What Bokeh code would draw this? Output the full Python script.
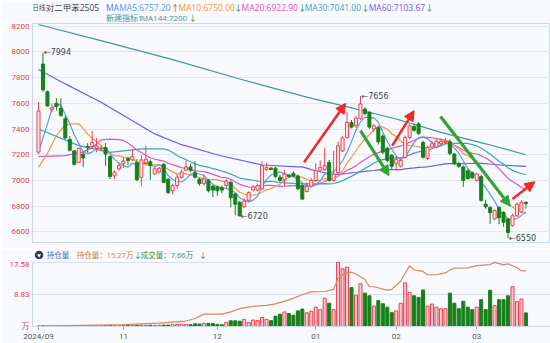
from bokeh.plotting import figure
from bokeh.models import ColumnDataSource, FixedTicker, Range1d, Arrow, NormalHead
from bokeh.layouts import column
from bokeh.embed import file_html
from bokeh.resources import INLINE
from bokeh.core.properties import value

# ---------------- data ----------------
opens = [7220, 7905, 7690, 7550, 7600, 7560, 7480, 7320, 7230, 7140,
         7205, 7265, 7265, 7250, 7245, 7255, 7185, 7035, 7090, 7130,
         7170, 7160, 7140, 7025, 7135, 7145, 7050, 7065, 7125, 7010,
         6920, 6960, 7025, 7080, 7105, 7060, 7010, 6975, 7000, 6955,
         6950, 6945, 6960, 6985, 6895, 6830, 6795, 6845, 6925, 6925,
         6935, 7085, 7095, 7095, 7025, 7005, 7040, 7055, 7035, 6960,
         6915, 6955, 7000, 7080, 7085, 7140, 7000, 7060, 7230, 7335,
         7450, 7425, 7480, 7555, 7530, 7400, 7410, 7345, 7250, 7195,
         7130, 7110, 7180, 7335, 7420, 7440, 7295, 7170, 7260, 7260,
         7285, 7295, 7300, 7205, 7130, 7105, 7075, 7060, 7000, 7030,
         6815, 6790, 6700, 6790, 6750, 6700, 6650, 6725, 6755, 6830]
highs = [7610, 7994, 7700, 7600, 7640, 7640, 7505, 7345, 7235, 7255,
         7220, 7290, 7385, 7330, 7275, 7290, 7195, 7080, 7140, 7180,
         7180, 7245, 7165, 7195, 7270, 7160, 7105, 7105, 7135, 7020,
         6975, 7050, 7085, 7155, 7130, 7150, 7020, 7040, 7010, 6965,
         6960, 6960, 7010, 7000, 6900, 6840, 6860, 6915, 6965, 6975,
         7150, 7135, 7105, 7105, 7045, 7080, 7050, 7070, 7045, 6975,
         6985, 7020, 7135, 7155, 7255, 7160, 7230, 7300, 7345, 7530,
         7470, 7500, 7656, 7570, 7540, 7440, 7420, 7360, 7265, 7205,
         7190, 7175, 7350, 7440, 7445, 7455, 7310, 7270, 7305, 7320,
         7325, 7330, 7320, 7215, 7145, 7115, 7085, 7070, 7060, 7045,
         6850, 6800, 6775, 6800, 6760, 6710, 6740, 6830, 6845, 6835]
lows = [7205, 7690, 7575, 7530, 7545, 7495, 7320, 7225, 7115, 7135,
        7105, 7215, 7255, 7220, 7225, 7115, 7010, 7010, 7075, 7095,
        7120, 7150, 6995, 6955, 7125, 7005, 7045, 7055, 6980, 6895,
        6890, 6935, 7015, 7075, 7065, 7015, 6960, 6960, 6905, 6870,
        6880, 6900, 6935, 6790, 6730, 6720, 6785, 6835, 6915, 6915,
        6925, 7075, 7080, 7020, 6990, 6960, 7020, 7025, 6925, 6850,
        6905, 6945, 6990, 7070, 7075, 6990, 6990, 7050, 7220, 7325,
        7405, 7410, 7470, 7505, 7400, 7375, 7280, 7205, 7140, 7085,
        7075, 7100, 7170, 7320, 7380, 7355, 7170, 7160, 7250, 7250,
        7275, 7285, 7195, 7120, 7095, 6950, 7005, 7010, 6990, 6835,
        6780, 6660, 6695, 6660, 6640, 6550, 6640, 6715, 6745, 6780]
closes = [7540, 7705, 7580, 7565, 7575, 7505, 7330, 7235, 7125, 7250,
          7175, 7255, 7295, 7270, 7250, 7205, 7030, 7065, 7115, 7150,
          7155, 7185, 7005, 7160, 7165, 7115, 7090, 7095, 6985, 6905,
          6960, 7025, 7065, 7105, 7080, 7025, 6975, 7010, 6920, 6925,
          6920, 6925, 6995, 6865, 6815, 6725, 6840, 6905, 6950, 6960,
          7115, 7100, 7085, 7030, 7000, 7050, 7030, 7035, 6935, 6855,
          6955, 7000, 7075, 7100, 7115, 7000, 7050, 7270, 7330, 7450,
          7415, 7485, 7595, 7520, 7415, 7425, 7300, 7220, 7155, 7110,
          7165, 7155, 7335, 7425, 7390, 7365, 7180, 7255, 7285, 7305,
          7305, 7305, 7210, 7130, 7110, 7000, 7015, 7020, 7050, 6845,
          6795, 6750, 6765, 6710, 6675, 6595, 6725, 6815, 6830, 6820]
# traded volume, 万 lots
volumes = [0.3, 0.4, 0.3, 0.3, 0.3, 0.3, 0.4, 0.3, 0.4, 0.3,
           0.3, 0.3, 0.4, 0.3, 0.3, 0.4, 0.5, 0.4, 0.4, 0.5,
           0.5, 0.5, 0.7, 0.7, 0.6, 0.7, 0.6, 0.7, 0.8, 0.8,
           1.0, 1.1, 1.2, 1.1, 1.0, 1.5, 1.4, 1.8, 1.7, 1.6,
           1.2, 1.0, 2.2, 3.2, 3.2, 3.0, 4.0, 2.2, 3.6, 3.3,
           5.1, 4.0, 3.3, 5.8, 6.9, 8.2, 7.3, 6.4, 8.8, 9.8,
           7.7, 8.6, 10.9, 9.5, 15.9, 13.1, 9.5, 36.1, 32.5, 33.4,
           21.9, 17.7, 24.1, 18.8, 17.3, 11.5, 14.6, 12.8, 10.9, 7.8,
           8.8, 13.1, 24.6, 19.2, 17.3, 16.4, 20.6, 11.5, 12.6, 10.9,
           10.0, 10.0, 18.8, 13.1, 10.0, 14.2, 10.9, 9.5, 10.9, 15.1,
           9.5, 20.4, 11.8, 15.1, 15.1, 17.3, 22.4, 14.0, 15.5, 7.66]
# open interest (万 lots) read at points along the line
oi_idx = [0, 19, 27, 33, 35, 37, 41, 43, 45, 48, 51, 53, 56, 59, 61, 64, 66, 67, 68, 69,
          70, 71, 73, 74, 75, 78, 79, 81, 83, 84, 86, 87, 89, 91, 92, 93, 96, 98, 101,
          102, 104, 105, 107, 108, 109]
oi_val = [0.1, 0.5, 0.9, 1.5, 2.2, 3.4, 3.4, 4.0, 4.9, 5.5, 5.8, 6.2, 7.3, 8.7, 9.5, 9.6,
          10.2, 13.3, 14.2, 14.7, 14.9, 14.4, 12.9, 10.9, 10.9, 10.0, 10.2, 12.4, 16.7, 15.5,
          15.1, 14.2, 14.2, 14.7, 15.5, 16.0, 16.1, 16.7, 17.0, 17.58, 16.9, 17.2, 16.1,
          15.3, 15.27]
ma5_lead_idx = [0, 1, 2, 3]
ma5_lead_val = [7218, 7330, 7440, 7556]
ma10_lead_idx = [0, 2, 4, 6, 8]
ma10_lead_val = [7102, 7210, 7350, 7432, 7440]
ma20_lead_idx = [0, 6, 10, 12, 14, 16, 18]
ma20_lead_val = [7185, 7193, 7222, 7255, 7315, 7322, 7318]
ma30_lead_idx = [0, 9, 16, 23, 28]
ma30_lead_val = [7400, 7271, 7218, 7245, 7245]
ma60_lead_idx = [0, 6, 14, 21, 26, 32, 41, 50, 58]
ma60_lead_val = [7863, 7751, 7608, 7465, 7362, 7278, 7190, 7120, 7105]
ma144_idx = [0, 15, 30, 45, 60, 70, 80, 90, 100, 109]
ma144_val = [8213, 8078, 7940, 7789, 7648, 7565, 7478, 7374, 7285, 7200]

price_ticks = [6600, 6800, 7000, 7200, 7400, 7600, 7800, 8000, 8200]
date_tick_idx = [0, 19, 40, 62, 80, 98]
date_tick_labels = ["2024/09", "11", "12", "01", "02", "03"]
oi_ticks = [0, 8.83, 17.58]
oi_tick_labels = ["万", "8.83", "17.58"]
VOL_TOP = 36.1   # volume shown at the top edge of the lower panel

# extreme-price notes
note_idx = [1, 72, 45, 105]
note_price = [7994, 7656, 6720, 6550]
note_text = ["←7994", "←7656", "←6720", "←6550"]

# hand-drawn trend arrows (index, price)
arrow_x0 = [59.4, 72.0, 79.1, 89.9, 106.0]
arrow_y0 = [7141, 7387, 7271, 7497, 6856]
arrow_x1 = [68.7, 78.4, 84.0, 105.5, 111.0]
arrow_y1 = [7600, 7037, 7543, 6800, 6990]
arrow_up = [True, False, True, False, True]

# header legend texts
legend1_text = ["对二甲苯2505", "MA", "MA5:6757.20", "↑", "MA10:6750.00", "↓",
                "MA20:6922.90", "↓", "MA30:7041.00", "↓", "MA60:7103.67", "↓"]
legend2_text = ["新建指标1", "MA144:7200", "↓"]
legend3_text = ["持仓量", "持仓量：15.27万", "↓", "成交量：7.66万", "↓"]

# ---------------- styling ----------------
BG = "#f7f9fd"
RED = "#e8424e"
GREEN = "#17801b"
UPA = "#e02020"
DNA = "#1d8a1d"
RED_FILL = "#fdeaec"
VOL_RED_FILL = "#f8c8ce"
GRID = "#e1e8f3"
AXIS = "#cbd8ea"
C_MA5 = "#5b9be6"
C_MA10 = "#f09a37"
C_MA20 = "#e052c8"
C_MA30 = "#3aa3bf"
C_MA60 = "#6a5ef0"
C_MA144 = "#3f96a0"
C_OI = "#d4895a"
FONT = "Open Sans, Noto Sans CJK SC"

legend1_x = [14, 78, 92, 147, 155, 214, 222, 282, 289, 349, 357, 417]
legend1_col = ["#444444", "#4a7fd6", C_MA5, UPA, C_MA10, DNA,
               C_MA20, DNA, C_MA30, DNA, C_MA60, DNA]
legend2_x = [78, 115, 166]
legend2_col = [C_MA144, C_MA144, DNA]
legend3_x = [15, 47, 108, 115, 177]
legend3_col = ["#3a6fc8", "#c8803f", DNA, "#3e8e3e", DNA]

N = len(closes)
idx = list(range(N))


def ma_line(n, lead_idx, lead_val):
    xs = list(lead_idx)
    ys = list(lead_val)
    for i in range(n - 1, N):
        xs.append(i)
        ys.append(sum(closes[i - n + 1:i + 1]) / n)
    return xs, ys


def strip_fig(height):
    f = figure(width=550, height=height, x_range=Range1d(0, 550), y_range=Range1d(height, 0),
               output_backend="svg", toolbar_location=None, x_axis_location=None,
               y_axis_location=None, min_border=0, outline_line_color=None,
               background_fill_color=BG, border_fill_color=BG)
    f.grid.visible = False
    return f


def put_texts(f, xs, y, texts, cols, size):
    f.text(x=xs, y=[y] * len(xs), text=texts, text_color=cols,
           text_font=value(FONT), text_font_size=size, text_align="left",
           text_baseline="middle")


up = [c >= o for o, c in zip(opens, closes)]
src = ColumnDataSource(dict(
    x=idx, high=highs, low=lows,
    top=[max(o, c) for o, c in zip(opens, closes)],
    bottom=[min(o, c) for o, c in zip(opens, closes)],
    color=[RED if u else GREEN for u in up],
    fill=[RED_FILL if u else GREEN for u in up],
    vfill=[VOL_RED_FILL if u else GREEN for u in up],
    vol=volumes,
))

xr = Range1d(-1.34, 114.5)

# ---------------- header strip 1 (canvas rows 0..23) ----------------
h1 = strip_fig(23)
put_texts(h1, [0], 6.7, ["日线"], ["#444444"], "6.5px")
put_texts(h1, legend1_x, 6.7, legend1_text, legend1_col, "8.5px")
put_texts(h1, legend2_x, 17.0, legend2_text, legend2_col, "8px")

# ---------------- main price panel (frame rows 23..242) ----------------
p = figure(width=550, height=225, x_range=xr, y_range=Range1d(6517, 8221),
           output_backend="svg", toolbar_location=None, x_axis_location=None,
           min_border_left=32, min_border_right=0, min_border_top=0, min_border_bottom=6,
           background_fill_color=BG, border_fill_color=BG, outline_line_color=AXIS)
yax = p.yaxis[0]
yax.ticker = FixedTicker(ticks=price_ticks)
yax.major_label_text_color = RED
yax.major_label_text_font_size = "8px"
yax.major_label_text_font = "Roboto"
yax.major_tick_out = 0
yax.major_tick_in = 0
yax.minor_tick_out = 0
yax.minor_tick_in = 0
yax.axis_line_color = AXIS
yax.major_label_standoff = 3
p.ygrid.ticker = FixedTicker(ticks=price_ticks)
p.ygrid.grid_line_color = GRID
p.xgrid.visible = False

for (xs, ys), col in [
    ((ma144_idx, ma144_val), C_MA144),
    (ma_line(60, ma60_lead_idx, ma60_lead_val), C_MA60),
    (ma_line(30, ma30_lead_idx, ma30_lead_val), C_MA30),
    (ma_line(20, ma20_lead_idx, ma20_lead_val), C_MA20),
    (ma_line(10, ma10_lead_idx, ma10_lead_val), C_MA10),
    (ma_line(5, ma5_lead_idx, ma5_lead_val), C_MA5),
]:
    p.line(xs, ys, line_color=col, line_width=1.2)

p.segment(x0="x", y0="low", x1="x", y1="high", line_color="color", line_width=1, source=src)
p.vbar(x="x", width=0.68, top="top", bottom="bottom", fill_color="fill",
       line_color="color", line_width=1, source=src)

p.text(x=note_idx, y=note_price, text=note_text, text_font=value("DejaVu Sans"),
       text_font_size="8px", text_color="#444444", text_align="left",
       text_baseline="middle", x_offset=1)

for x0, y0, x1, y1, u in zip(arrow_x0, arrow_y0, arrow_x1, arrow_y1, arrow_up):
    c = "#f02828" if u else "#33a433"
    p.add_layout(Arrow(x_start=x0, y_start=y0, x_end=x1, y_end=y1,
                       line_color=c, line_width=2.5 if u else 3.2,
                       end=NormalHead(size=10, fill_color=c, line_color=c, line_width=1)))

# ---------------- header strip 2 (canvas rows 248..259) ----------------
h2 = strip_fig(11)
h2.scatter(x=[7], y=[5.5], size=8.5, marker="circle", fill_color="#2c3c5c", line_color=None)
h2.scatter(x=[7], y=[5.9], size=4, marker="inverted_triangle", fill_color="white", line_color=None)
put_texts(h2, legend3_x, 5.5, legend3_text, legend3_col, "7.5px")

# ---------------- volume / open interest panel (frame rows 259..328) ----------------
PAD = 69.0 / 66.0   # frame extends a little above the top grid line
p2 = figure(width=550, height=84, x_range=xr, y_range=Range1d(0, oi_ticks[-1] * PAD),
            output_backend="svg", toolbar_location=None,
            min_border_left=32, min_border_right=0, min_border_top=0, min_border_bottom=15,
            background_fill_color=BG, border_fill_color=BG, outline_line_color=None)
p2.extra_y_ranges = {"vol": Range1d(0, VOL_TOP * PAD)}
xax = p2.xaxis[0]
xax.ticker = FixedTicker(ticks=date_tick_idx)
xax.major_label_overrides = {i: s for i, s in zip(date_tick_idx, date_tick_labels)}
xax.major_label_text_font_size = "8px"
xax.major_label_text_font = "Roboto"
xax.major_label_text_color = "#555555"
xax.major_tick_out = 3
xax.major_tick_in = 0
xax.minor_tick_out = 0
xax.minor_tick_in = 0
xax.major_tick_line_color = "#9aa6b6"
xax.axis_line_color = AXIS
xax.major_label_standoff = 2
y2 = p2.yaxis[0]
y2.ticker = FixedTicker(ticks=oi_ticks)
y2.bounds = (0, oi_ticks[-1])
y2.major_label_overrides = {t: s for t, s in zip(oi_ticks, oi_tick_labels)}
y2.major_label_text_color = RED
y2.major_label_text_font_size = "8px"
y2.major_label_text_font = "Roboto, Noto Sans CJK SC"
y2.major_tick_out = 0
y2.major_tick_in = 0
y2.minor_tick_out = 0
y2.minor_tick_in = 0
y2.axis_line_color = AXIS
y2.major_label_standoff = 3
p2.ygrid.ticker = FixedTicker(ticks=oi_ticks[1:])
p2.ygrid.grid_line_color = "#d6e0ee"
p2.xgrid.visible = False

p2.vbar(x="x", width=0.68, top="vol", bottom=0, fill_color="vfill", line_color="color",
        line_width=1, y_range_name="vol", source=src)
p2.line(oi_idx, oi_val, line_color=C_OI, line_width=1.2)

layout = column(h1, p, h2, p2, spacing=0)
open("out.html", "w").write(file_html(layout, INLINE))
